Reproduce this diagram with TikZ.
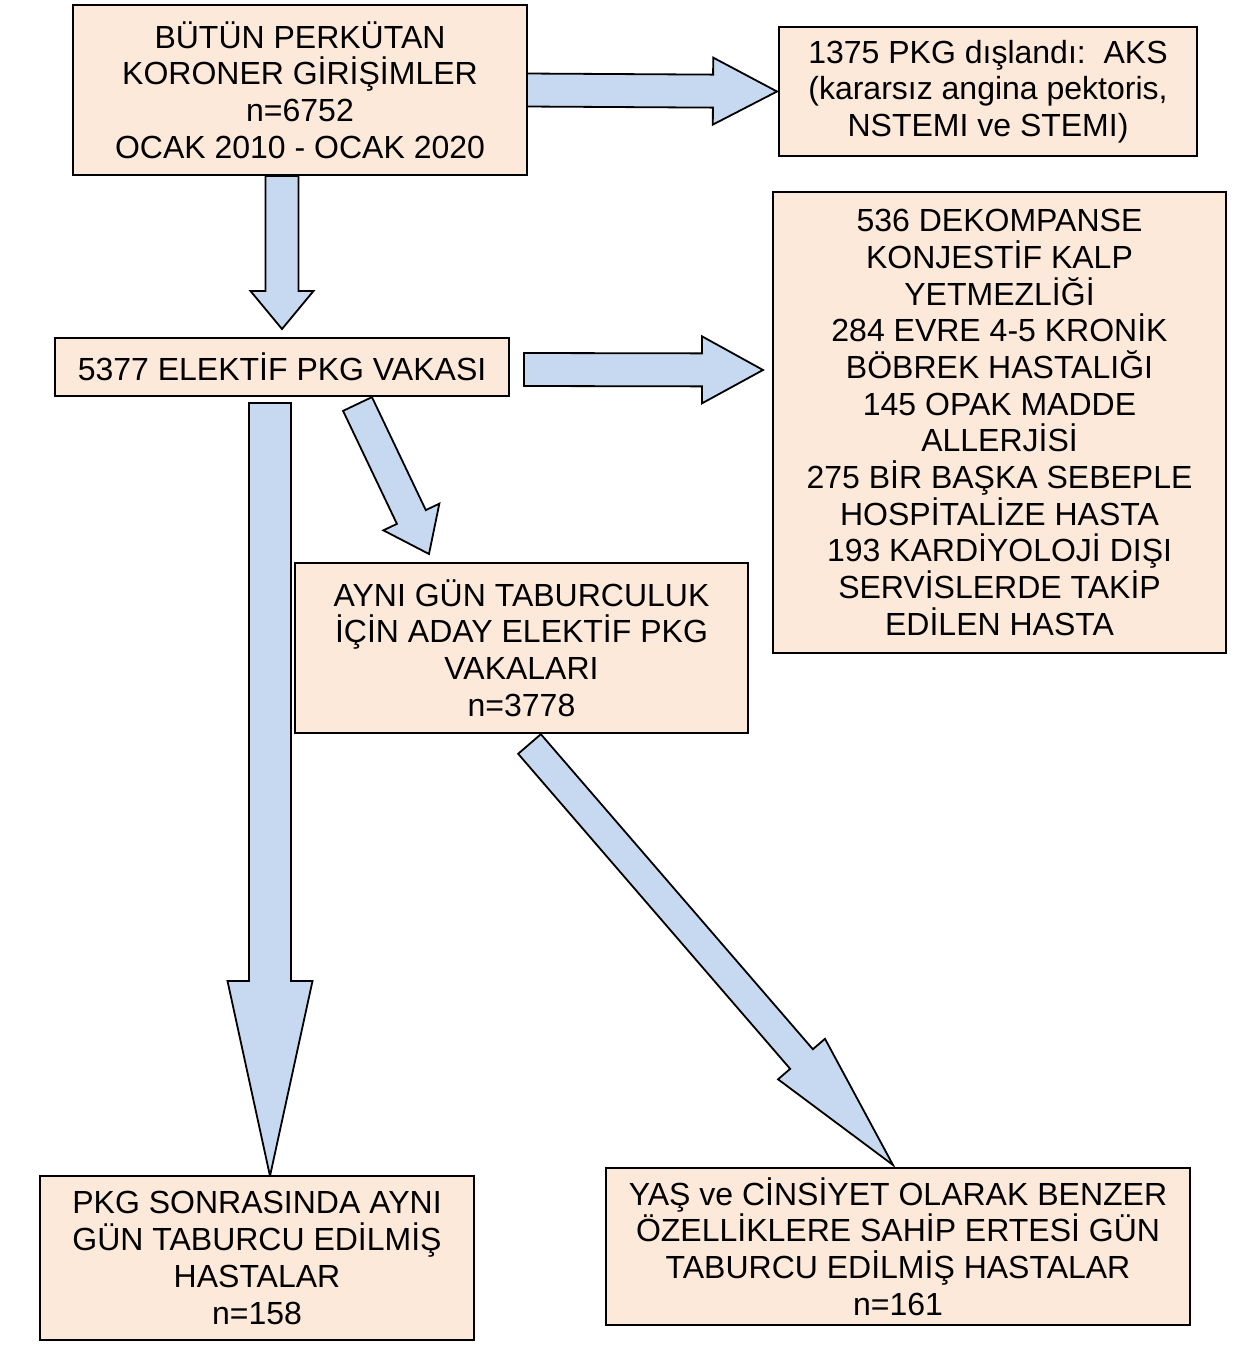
\documentclass[tikz,border=0pt]{standalone}
\usepackage{fontspec}
\setmainfont{Liberation Sans}
\usetikzlibrary{calc}
\definecolor{peach}{HTML}{FDE9D9}
\definecolor{arrowblue}{HTML}{C6D9F1}
\pgfdeclarelayer{bg}
\pgfsetlayers{bg,main}
\tikzset{
 box/.style={draw=black, line width=2pt, fill=peach, align=center, inner sep=0pt,
   font=\fontsize{32}{36.7}\selectfont, text=black},
 blockarrow/.style={draw=black, line width=1.8pt, fill=arrowblue, line join=miter},
}
\newcommand{\blkarrow}[5]{%
 \coordinate (hb) at ($(#2)!#5!(#1)$);
 \draw[blockarrow] ($(#1)!#3!90:(#2)$) -- ($(hb)!#3!90:(#2)$) -- ($(hb)!#4!90:(#2)$) -- (#2)
   -- ($(hb)!#4!-90:(#2)$) -- ($(hb)!#3!-90:(#2)$) -- ($(#1)!#3!-90:(#2)$) -- cycle;
}
\begin{document}
\begin{tikzpicture}[x=1pt,y=-1pt]
\useasboundingbox (0,0) rectangle (1240,1348);
\node[box, minimum width=454pt, minimum height=170pt] (b1) at (300,90)
 {BÜTÜN PERKÜTAN\\KORONER GİRİŞİMLER\\n=6752\\OCAK 2010 - OCAK 2020};
\node[box, minimum width=418pt, minimum height=129pt] (b2) at (988,91.5)
 {1375 PKG dışlandı:\ \ AKS\\(kararsız angina pektoris,\\NSTEMI ve STEMI)};
\node[box, minimum width=453pt, minimum height=461pt] (b3) at (999.5,422.5)
 {536 DEKOMPANSE\\KONJESTİF KALP\\YETMEZLİĞİ\\284 EVRE 4-5 KRONİK\\BÖBREK HASTALIĞI\\145 OPAK MADDE\\ALLERJİSİ\\275 BİR BAŞKA SEBEPLE\\HOSPİTALİZE HASTA\\193 KARDİYOLOJİ DIŞI\\SERVİSLERDE TAKİP\\EDİLEN HASTA};
\node[box, minimum width=454pt, minimum height=58pt] (b4) at (282,367)
 {5377 ELEKTİF PKG VAKASI};
\node[box, minimum width=453pt, minimum height=170pt] (b5) at (521.5,648)
 {AYNI GÜN TABURCULUK\\İÇİN ADAY ELEKTİF PKG\\VAKALARI\\n=3778};
\node[box, minimum width=434pt, minimum height=164pt] (b6) at (257,1258)
 {PKG SONRASINDA AYNI\\GÜN TABURCU EDİLMİŞ\\HASTALAR\\n=158};
\node[box, minimum width=584pt, minimum height=157pt] (b7) at (898,1246.5)
 {YAŞ ve CİNSİYET OLARAK BENZER\\ÖZELLİKLERE SAHİP ERTESİ GÜN\\TABURCU EDİLMİŞ HASTALAR\\n=161};
% connector end points
\coordinate (a1s) at ($(b1.east)+(-4,0)$);
\coordinate (a1e) at ($(b2.west)+(-1,0)$);
\coordinate (a2s) at (282,176);
\coordinate (a2e) at ($(b4.north)+(0,-8)$);
\coordinate (a3s) at ($(b4.east)+(14,2.5)$);
\coordinate (a3e) at ($(b3.west)+(-9,-52.5)$);
\coordinate (a4s) at (270,403);
\coordinate (a4e) at (270,1176);
\coordinate (a5s) at (357.5,404);
\coordinate (a5e) at (429,554);
\coordinate (a6s) at (529.5,744);
\coordinate (a6e) at (893,1165);
\begin{pgfonlayer}{bg}
\blkarrow{a1s}{a1e}{16.5pt}{33.5pt}{64pt}
\blkarrow{a2s}{a2e}{16.5pt}{31.5pt}{38pt}
\blkarrow{a3s}{a3e}{16.5pt}{33.5pt}{61pt}
\blkarrow{a4s}{a4e}{21pt}{42.5pt}{195pt}
\blkarrow{a5s}{a5e}{16pt}{31pt}{41pt}
\blkarrow{a6s}{a6e}{15pt}{31pt}{140pt}
\end{pgfonlayer}
\end{tikzpicture}
\end{document}
